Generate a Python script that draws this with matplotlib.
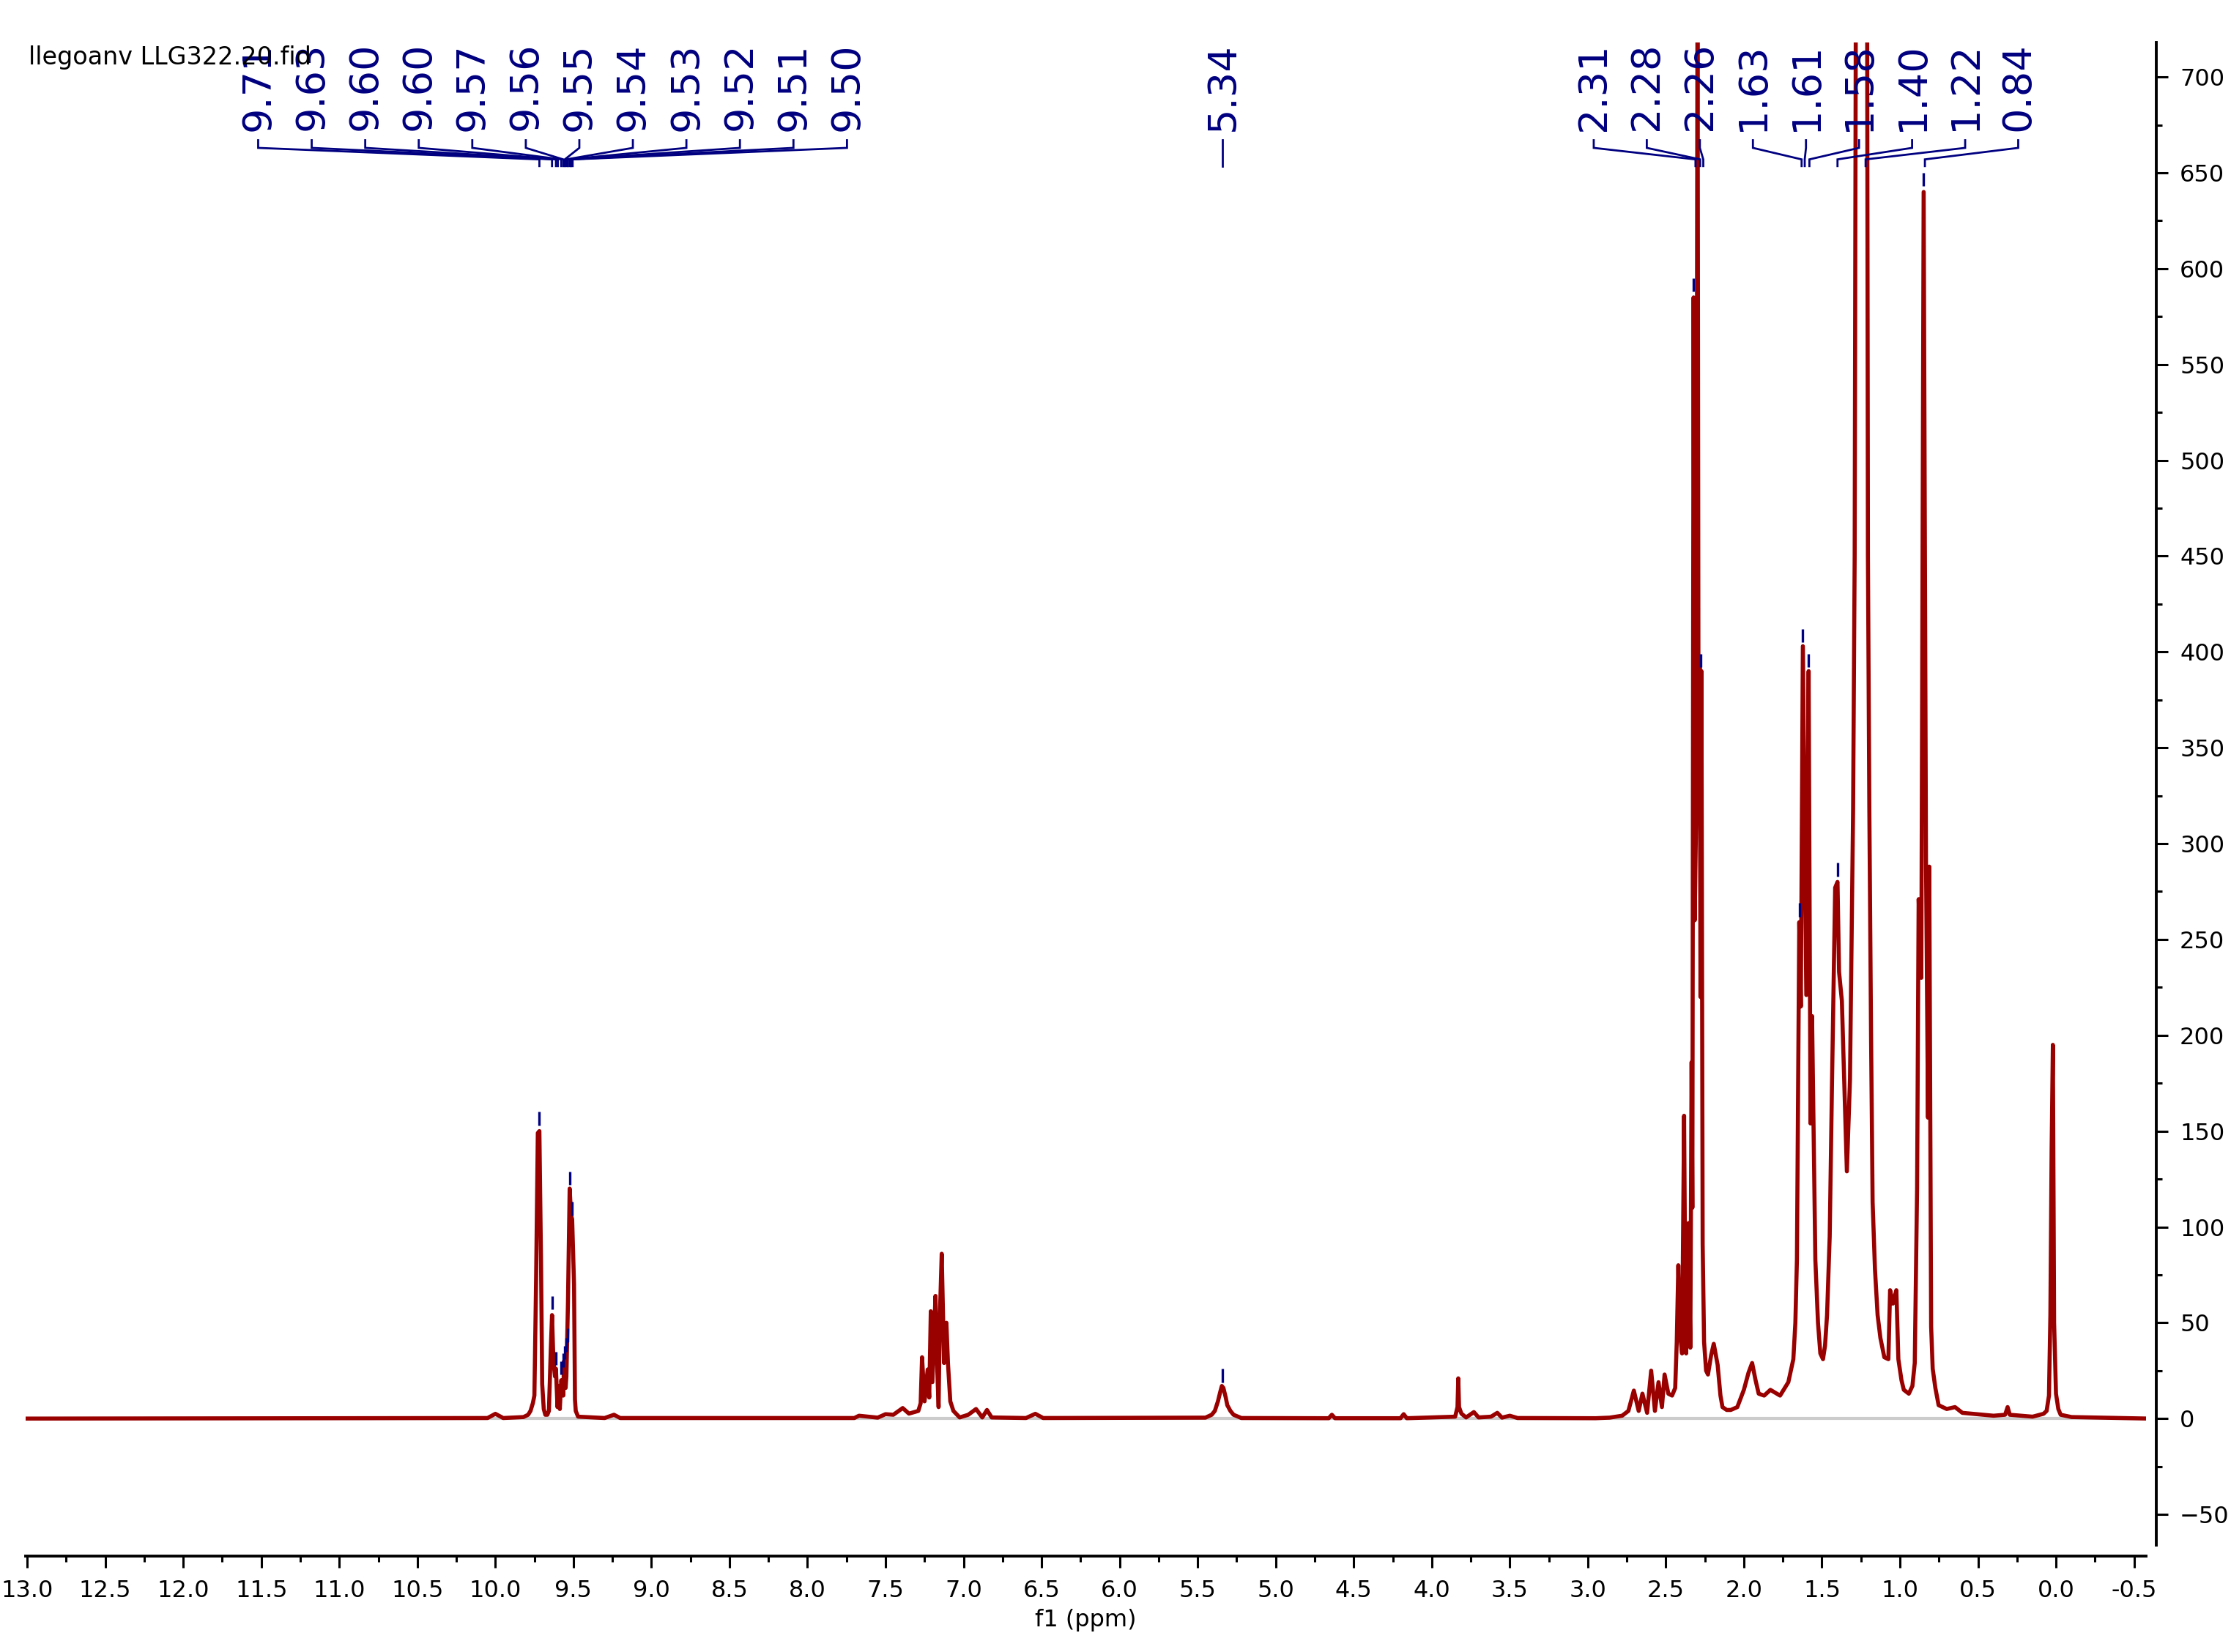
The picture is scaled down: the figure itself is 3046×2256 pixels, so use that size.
import matplotlib

matplotlib.use("Agg")
import matplotlib.pyplot as plt
from matplotlib.ticker import MultipleLocator

RED = "#990000"
BLUE = "#000080"

# spectrum: (ppm, intensity)
PPM = [
    13.0, 10.05, 10.0, 9.95, 9.82, 9.79, 9.775, 9.76, 9.75, 9.739, 9.728, 9.718,
    9.708, 9.70, 9.69, 9.68, 9.667, 9.657, 9.645, 9.637, 9.628, 9.618, 9.612,
    9.602, 9.595, 9.587, 9.578, 9.571, 9.565, 9.56, 9.55, 9.545, 9.535, 9.524,
    9.515, 9.508, 9.496, 9.49, 9.485, 9.47, 9.3, 9.24, 9.2,
    7.70, 7.67, 7.55, 7.50, 7.45, 7.39, 7.35, 7.29, 7.275, 7.266, 7.25, 7.23,
    7.22, 7.21, 7.20, 7.18, 7.17, 7.16, 7.152, 7.14, 7.125, 7.11, 7.10, 7.085,
    7.065, 7.025, 6.97, 6.92, 6.88, 6.85, 6.82, 6.6, 6.54, 6.49,
    5.45, 5.41, 5.39, 5.37, 5.355, 5.345, 5.335, 5.32, 5.31, 5.29, 5.27, 5.22,
    4.66, 4.64, 4.62, 4.2, 4.18, 4.16,
    3.85, 3.835, 3.83, 3.825, 3.81, 3.78, 3.73, 3.70, 3.62, 3.58, 3.55, 3.5, 3.45,
    2.95, 2.86, 2.78, 2.74, 2.705, 2.674, 2.65, 2.62, 2.594, 2.57, 2.547, 2.525,
    2.508, 2.484, 2.46, 2.44, 2.43, 2.42, 2.41, 2.396, 2.383, 2.375, 2.37,
    2.355, 2.343, 2.335, 2.33, 2.322, 2.315, 2.305, 2.297, 2.29, 2.283, 2.278,
    2.272, 2.264, 2.255, 2.242, 2.23, 2.21, 2.193, 2.168, 2.15, 2.137, 2.11, 2.084,
    2.042, 2.0, 1.97, 1.947, 1.925, 1.905, 1.87, 1.83, 1.768, 1.715, 1.683, 1.67,
    1.66, 1.645, 1.635, 1.622, 1.60, 1.585, 1.573, 1.563, 1.542, 1.525, 1.51,
    1.493, 1.48, 1.467, 1.45, 1.436, 1.415, 1.40, 1.39, 1.372, 1.34, 1.32, 1.30,
    1.29, 1.283, 1.275, 1.25, 1.225, 1.21, 1.205, 1.196, 1.185, 1.175, 1.16,
    1.143, 1.125, 1.10, 1.074, 1.063, 1.045, 1.023, 1.01, 0.99, 0.975, 0.943,
    0.92, 0.905, 0.89, 0.88, 0.863, 0.848, 0.833, 0.82, 0.812, 0.80, 0.79, 0.773,
    0.752, 0.70, 0.647, 0.6, 0.4, 0.326, 0.31, 0.296, 0.15, 0.08, 0.06, 0.045,
    0.036, 0.028, 0.02, 0.012, 0.0, -0.015, -0.03, -0.1, -0.6,
]
INTENSITY = [
    0, 0.3, 2.5, 0.3, 0.8, 2, 4, 8, 12, 73, 149, 150,
    85, 18, 5, 2, 2, 4, 36, 54, 30, 22, 26,
    6, 17, 5, 20, 18, 12, 30, 16, 22, 60, 120,
    106, 104, 70, 10, 4, 1, 0.3, 2, 0.3,
    0.3, 1.5, 0.5, 2.3, 2, 5.5, 2.6, 4, 8, 32, 9, 25.6,
    11, 56, 19, 64, 29, 6, 53, 86, 29, 50, 29, 9,
    4, 0.6, 2, 5, 0.6, 4.5, 0.6, 0.3, 2.5, 0.3,
    0.5, 2, 4, 9, 14, 17, 16, 11, 7, 4, 2, 0.3,
    0.2, 2, 0.2, 0.2, 2.3, 0.2,
    1, 6, 21, 6, 2.6, 0.6, 3.4, 0.6, 1, 3, 0.5, 1.5, 0.3,
    0.2, 0.5, 1.5, 4, 14.6, 4, 13, 3, 25, 4, 19, 6,
    23, 13, 12, 16, 40, 80, 45, 34, 158, 60, 34,
    102, 37, 186, 110, 585, 260, 320, 760, 320, 395, 220,
    390, 91, 40, 25, 23, 33, 39, 28, 12, 6, 4.5, 4.5,
    6, 15, 24, 29, 20, 13, 12, 15, 12, 19, 31, 50,
    83, 259, 215, 403, 221, 390, 154, 210, 83, 50, 34,
    31, 38, 54, 95, 171, 277, 280, 233, 218, 129, 177, 318,
    450, 720, 1100, 1500, 1200, 730, 450, 318, 200, 113, 78,
    54, 42, 32, 31, 67, 60, 67, 31, 20, 15, 13,
    17, 29, 120, 271, 230, 640, 291, 157, 288, 48, 26, 16,
    7, 5, 6, 3, 1.5, 2, 6, 2, 1, 2.5, 4, 12,
    54, 140, 195, 50, 13, 5, 2, 0.8, 0,
]

# peak picking labels
LEFT_LABELS = ["9.71", "9.63", "9.60", "9.60", "9.57", "9.56",
               "9.55", "9.54", "9.53", "9.52", "9.51", "9.50"]
LEFT_TARGETS = [9.718, 9.637, 9.612, 9.60, 9.578, 9.565,
                9.555, 9.545, 9.535, 9.524, 9.515, 9.505]
RIGHT_LABELS = ["2.31", "2.28", "2.26", "1.63", "1.61", "1.58", "1.40", "1.22", "0.84"]
RIGHT_TARGETS = [2.31, 2.28, 2.26, 1.63, 1.61, 1.58, 1.40, 1.22, 0.84]
SINGLE_LABEL = "5.34"
SINGLE_TARGET = 5.34

TICK_PPM = [9.718, 9.637, 9.612, 9.578, 9.565, 9.555, 9.545, 9.535, 9.524,
            9.508, 5.34, 2.322, 2.275, 1.645, 1.622, 1.585, 1.40, 0.848]
TICK_BASE = [153, 57, 28, 23, 27, 31, 35, 40, 122,
             106, 19, 588, 392, 262, 405, 392, 283, 643]

W, H, DPI = 3046, 2256, 200
fig = plt.figure(figsize=(W / DPI, H / DPI), dpi=DPI)
ax = fig.add_axes([35 / W, 1 - 2110 / H, (2930 - 35) / W, (2110 - 58) / H])

XMAX, XMIN = 13.01, -0.577
ax.axhline(0, color="#cccccc", lw=1.5, zorder=1)
ax.plot(PPM, INTENSITY, color=RED, lw=2.0, zorder=3)
ax.set_xlim(XMAX, XMIN)
ax.set_ylim(-66, 718)

for s in ("left", "top"):
    ax.spines[s].set_visible(False)
ax.spines["bottom"].set_position(("outward", 5.4))
ax.spines["right"].set_position(("outward", 5))
for s in ("bottom", "right"):
    ax.spines[s].set_linewidth(1.4)

ax.yaxis.tick_right()
ax.xaxis.set_major_locator(MultipleLocator(0.5))
ax.xaxis.set_minor_locator(MultipleLocator(0.25))
ax.yaxis.set_major_locator(MultipleLocator(50))
ax.yaxis.set_minor_locator(MultipleLocator(25))
ax.xaxis.set_major_formatter(plt.FuncFormatter(lambda v, _: f"{v:.1f}"))
ax.tick_params(which="major", length=5.6, width=1.1, labelsize=11.5, pad=6)
ax.tick_params(which="minor", length=2.9, width=1.1)
ax.tick_params(axis="y", which="both", direction="out")

# small tick marks above picked peaks
ax.vlines(TICK_PPM, TICK_BASE, [b + 7 for b in TICK_BASE], color=BLUE, lw=1.2, zorder=4)


def draw_group(labels, targets, x0, step):
    for i, (lab, tgt) in enumerate(zip(labels, targets)):
        lx = x0 - step * i
        ax.text(lx, 718, lab, rotation=90, ha="center", va="top",
                fontsize=19.5, color=BLUE, zorder=5)
        ax.plot([lx, lx, tgt, tgt], [667, 663, 657, 653.5],
                color=BLUE, lw=1.0, solid_joinstyle="miter", zorder=5)


draw_group(LEFT_LABELS, LEFT_TARGETS, 11.52, 0.343)
draw_group(RIGHT_LABELS, RIGHT_TARGETS, 2.962, 0.340)
ax.text(SINGLE_TARGET, 718, SINGLE_LABEL, rotation=90, ha="center", va="top",
        fontsize=19.5, color=BLUE, zorder=5)
ax.plot([SINGLE_TARGET, SINGLE_TARGET], [667, 653.5], color=BLUE, lw=1.0, zorder=5)

fig.text(39 / W, 1 - 62 / H, "llegoanv LLG322.20.fid", fontsize=12, ha="left", va="top")
fig.text(1482 / W, 1 - 2212 / H, "f1 (ppm)", fontsize=11.5, ha="center", va="center")

fig.savefig("out.png", dpi=DPI, facecolor="white")
